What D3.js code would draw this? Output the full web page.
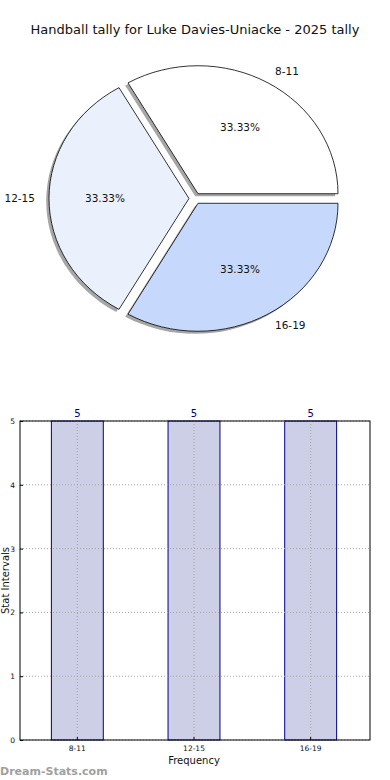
<!DOCTYPE html>
<html>
<head>
<meta charset="utf-8">
<title>Handball tally</title>
<style>
	body{ margin:0; background:#fff; }
	svg text{ font-family:"DejaVu Sans", sans-serif; }
</style>
</head>
<body>
<div id="chart"></div>
<script src="https://d3js.org/d3.v7.min.js"></script>
<script type="text/javascript">

var categories = ['8-11','12-15','16-19'],
	tally = [5,5,5],
	pieColours = ['#ffffff','#eaf1fd','#c6d9fd'],
	yTicks = [0,1,2,3,4,5];

var W = 390, H = 780;
var svg = d3.select('#chart').append('svg').attr('width',W).attr('height',H);

svg.append('text').attr('x',195).attr('y',34).attr('text-anchor','middle')
	.style('font-size','13px').style('fill','#111')
	.text('Handball tally for Luke Davies-Uniacke - 2025 tally');

// ---- pie (matplotlib style: ccw from east, exploded, shadowed, stretched) ----
var cx = 195, cy = 198.5, rx = 140, ry = 128, explode = 0.043;
var total = d3.sum(tally);
var pie = d3.pie().sort(null).startAngle(Math.PI/2).endAngle(Math.PI/2 - 2*Math.PI);
var arcs = pie(tally);
var unitArc = d3.arc().innerRadius(0).outerRadius(1);

function mid(d){ // angle measured ccw from east
	var a = (d.startAngle + d.endAngle)/2;
	return Math.PI/2 - a;
}

var pieG = svg.append('g');
arcs.forEach(function(d,i){
	var t = mid(d),
		ox = cx + explode*rx*Math.cos(t),
		oy = cy - explode*ry*Math.sin(t);
	// shadow
	pieG.append('path')
		.attr('transform','translate('+(ox-2.8)+','+(oy+2.6)+') scale('+rx+','+ry+')')
		.attr('d',unitArc(d))
		.style('fill','#4d4d4d').style('fill-opacity',0.5);
	pieG.append('path')
		.attr('transform','translate('+ox+','+oy+') scale('+rx+','+ry+')')
		.attr('d',unitArc(d))
		.attr('vector-effect','non-scaling-stroke')
		.style('fill',pieColours[i]).style('stroke','#000').style('stroke-width',0.8);
});
arcs.forEach(function(d,i){
	var t = mid(d),
		ox = cx + explode*rx*Math.cos(t),
		oy = cy - explode*ry*Math.sin(t);
	pieG.append('text')
		.attr('x', ox + 0.6*rx*Math.cos(t)).attr('y', oy - 0.6*ry*Math.sin(t))
		.attr('dy','0.35em').attr('text-anchor','middle')
		.style('font-size','10.5px').style('fill','#111')
		.text((100*tally[i]/total).toFixed(2)+'%');
	var lx = ox + 1.1*rx*Math.cos(t);
	pieG.append('text')
		.attr('x', lx).attr('y', oy - 1.1*ry*Math.sin(t))
		.attr('dy','0.35em')
		.attr('text-anchor', Math.cos(t) > 0.01 ? 'start' : 'end')
		.style('font-size','10.5px').style('fill','#111')
		.text(categories[i]);
});

// ---- bar chart ----
var m = {left:20, right:370, top:421, bottom:740};
var x = d3.scaleBand().domain(categories).range([m.left,m.right]).paddingInner(0.555).paddingOuter(0.2775);
var y = d3.scaleLinear().domain([0,5]).range([m.bottom,m.top]);
var barG = svg.append('g');

barG.selectAll('rect.bar').data(tally).enter().append('rect')
	.attr('class','bar')
	.attr('x',function(d,i){ return x(categories[i]) - 1; })
	.attr('y',function(d){ return y(d); })
	.attr('width',x.bandwidth())
	.attr('height',function(d){ return y(0)-y(d); })
	.style('fill','#cdcfe6').style('stroke','#000080').style('stroke-width',1);

// grid
barG.selectAll('line.hg').data(yTicks).enter().append('line')
	.attr('x1',m.left).attr('x2',m.right)
	.attr('y1',function(d){ return y(d); }).attr('y2',function(d){ return y(d); })
	.style('stroke','#a8a8a8').style('stroke-dasharray','1,2').style('stroke-width',1);
barG.selectAll('line.vg').data(categories).enter().append('line')
	.attr('x1',function(d){ return x(d)+x.bandwidth()/2 - 1; })
	.attr('x2',function(d){ return x(d)+x.bandwidth()/2 - 1; })
	.attr('y1',m.top).attr('y2',m.bottom)
	.style('stroke','#a8a8a8').style('stroke-dasharray','1,2').style('stroke-width',1);

// frame
barG.append('rect').attr('x',m.left).attr('y',m.top)
	.attr('width',m.right-m.left).attr('height',m.bottom-m.top)
	.style('fill','none').style('stroke','#000').style('stroke-width',1);

var yAxis = d3.axisLeft(y).tickValues(yTicks).tickSize(-3).tickPadding(5).tickFormat(d3.format('d'));
var ya = barG.append('g').attr('transform','translate('+m.left+',0)').call(yAxis);
var xAxis = d3.axisBottom(x).tickSize(-3).tickPadding(6);
var xa = barG.append('g').attr('transform','translate(-1,'+m.bottom+')').call(xAxis);
[ya,xa].forEach(function(a){
	a.select('.domain').remove();
	a.selectAll('text').style('font-size','7.5px').style('fill','#111').style('font-family','"DejaVu Sans", sans-serif');
	a.selectAll('line').style('stroke','#000');
});

barG.selectAll('text.val').data(tally).enter().append('text')
	.attr('class','val')
	.attr('x',function(d,i){ return x(categories[i])+x.bandwidth()/2 - 1; })
	.attr('y',function(d){ return y(d)-4; })
	.attr('text-anchor','middle')
	.style('font-size','10px').style('fill','#000080')
	.text(function(d){ return d; });

svg.append('text').attr('x',(m.left+m.right)/2 - 1).attr('y',764)
	.attr('text-anchor','middle').style('font-size','10px').style('fill','#111')
	.text('Frequency');
svg.append('text').attr('transform','translate(9,'+((m.top+m.bottom)/2)+') rotate(-90)')
	.attr('text-anchor','middle').style('font-size','10px').style('fill','#111')
	.text('Stat Intervals');

svg.append('text').attr('x',0).attr('y',775)
	.style('font-size','11px').style('font-weight','600').style('fill','#a0a0a0')
	.text('Dream-Stats.com');
</script>
</body>
</html>
